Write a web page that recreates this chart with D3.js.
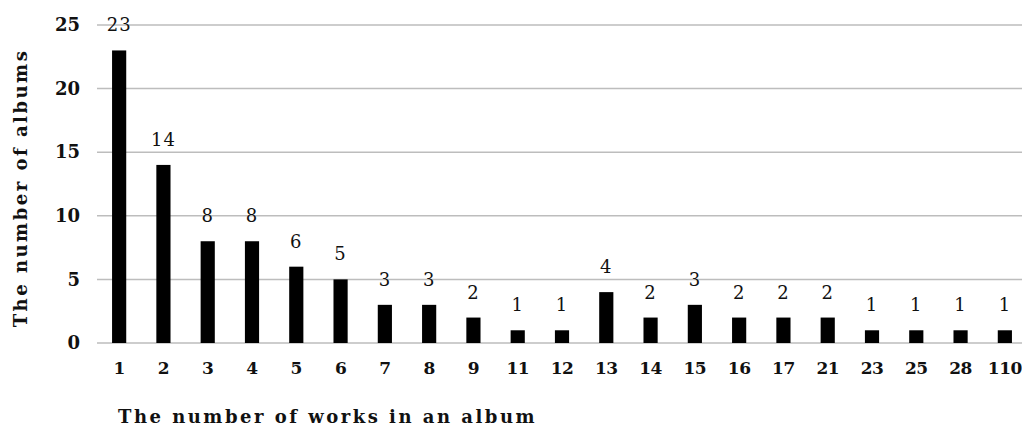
<!DOCTYPE html>
<html>
<head>
<meta charset="utf-8">
<script src="https://cdn.jsdelivr.net/npm/d3@7"></script>
<style>
  body { margin: 0; background: #fff; }
  text { font-family: "DejaVu Serif", serif; font-weight: bold; fill: #111; }
</style>
</head>
<body>
<div id="chart"></div>
<script>
// Data
const categories = ["1", "2", "3", "4", "5", "6", "7", "8", "9", "11", "12", "13", "14", "15", "16", "17", "21", "23", "25", "28", "110"];
const albumCounts = [23, 14, 8, 8, 6, 5, 3, 3, 2, 1, 1, 4, 2, 3, 2, 2, 2, 1, 1, 1, 1];
const yTicks = [0, 5, 10, 15, 20, 25];

const W = 1022, H = 427;
const margin = {top: 25, right: -5, bottom: 84, left: 97};
const width = W - margin.left - margin.right;
const height = H - margin.top - margin.bottom;

const svg = d3.select("#chart")
    .append("svg")
    .attr("width", W)
    .attr("height", H)
    .append("g")
    .attr("transform", `translate(${margin.left},${margin.top})`);

const data = categories.map((c, i) => ({cat: c, value: albumCounts[i]}));

// Scales
const xScale = d3.scaleBand()
    .domain(categories)
    .range([0, width])
    .paddingInner(0.68)
    .paddingOuter(0.34);

const yScale = d3.scaleLinear()
    .domain([0, 25])
    .range([height, 0]);

// Gridlines
svg.append("g")
    .selectAll("line")
    .data(yTicks)
    .enter()
    .append("line")
    .attr("x1", 0)
    .attr("x2", width)
    .attr("y1", d => yScale(d))
    .attr("y2", d => yScale(d))
    .attr("stroke", "#bdbdbd")
    .attr("stroke-width", 1.5);

// Y axis labels
const yAxis = d3.axisLeft(yScale)
    .tickValues(yTicks)
    .tickSize(0)
    .tickPadding(17);

svg.append("g")
    .attr("id", "y-axis")
    .call(yAxis)
    .call(g => g.select(".domain").remove())
    .selectAll("text")
    .style("font-size", "18px");

// X axis labels
const xAxis = d3.axisBottom(xScale)
    .tickSize(0)
    .tickPadding(19);

svg.append("g")
    .attr("id", "x-axis")
    .attr("transform", `translate(0,${height})`)
    .call(xAxis)
    .call(g => g.select(".domain").remove())
    .selectAll("text")
    .style("font-size", "17px")
    .style("letter-spacing", "-0.5px");

// Bars
svg.selectAll(".bar")
    .data(data)
    .enter()
    .append("rect")
    .attr("class", "bar")
    .attr("x", d => xScale(d.cat))
    .attr("y", d => yScale(d.value))
    .attr("width", xScale.bandwidth())
    .attr("height", d => height - yScale(d.value))
    .attr("fill", "#000");

// Value labels
svg.selectAll(".val")
    .data(data)
    .enter()
    .append("text")
    .attr("class", "val")
    .attr("x", d => xScale(d.cat) + xScale.bandwidth() / 2)
    .attr("y", d => yScale(d.value) - 19)
    .attr("text-anchor", "middle")
    .style("font-size", "18px")
    .style("font-weight", "normal")
    .style("letter-spacing", "1px")
    .text(d => d.value);

// Axis titles
svg.append("text")
    .attr("x", 21)
    .attr("y", height + 80)
    .style("font-size", "18px")
    .style("letter-spacing", "2.5px")
    .text("The number of works in an album");

svg.append("text")
    .attr("transform", `translate(${21 - margin.left},${188 - margin.top}) rotate(-90)`)
    .attr("dy", "0.35em")
    .attr("text-anchor", "middle")
    .style("font-size", "18px")
    .style("letter-spacing", "2.5px")
    .text("The number of albums");
</script>
</body>
</html>
